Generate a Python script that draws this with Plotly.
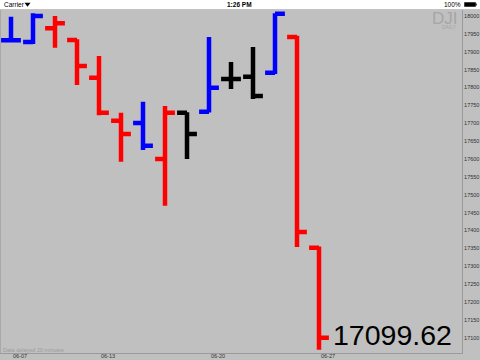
import plotly.graph_objects as go

# ---- data (DJI daily bars, June 2016) ----
dates = ["06-07", "06-08", "06-09", "06-10", "06-13", "06-14", "06-15", "06-16",
         "06-17", "06-20", "06-21", "06-22", "06-23", "06-24", "06-27"]
opens = [17932, 17927, 17966, 17933, 17827, 17707, 17701, 17600,
         17729, 17732, 17824, 17830, 17841, 17941, 17352]
highs = [17998, 18008, 18000, 17935, 17888, 17729, 17760, 17748,
         17731, 17941, 17871, 17913, 18008, 17945, 17355]
lows = [17928, 17922, 17911, 17807, 17722, 17592, 17625, 17469,
        17600, 17730, 17796, 17768, 17838, 17354, 17066]
closes = [17932, 18000, 17980, 17860, 17729, 17670, 17637, 17729,
          17670, 17799, 17824, 17776, 18006, 17396, 17099.62]
bar_colors = ["blue", "blue", "red", "red", "red", "red", "blue", "red",
              "black", "blue", "black", "black", "blue", "red", "red"]
label_dates = ["06-07", "06-13", "06-20", "06-27"]
y_ticks = list(range(17100, 18001, 50))
last_value = "17099.62"

W, H = 480, 360
ML, MR, MT, MB = 0, 18, 10, 7
PW, PH = W - ML - MR, H - MT - MB

def px(x):
    return (x - ML) / PW

def py(y):
    return (H - MB - y) / PH

color_map = {"blue": "#0000ff", "red": "#ff0000", "black": "#000000"}
fig = go.Figure()
for cname in ["blue", "red", "black"]:
    idx = [i for i, c in enumerate(bar_colors) if c == cname]
    col = color_map[cname]
    fig.add_trace(go.Ohlc(
        x=idx,
        open=[opens[i] for i in idx],
        high=[highs[i] for i in idx],
        low=[lows[i] for i in idx],
        close=[closes[i] for i in idx],
        increasing=dict(line=dict(color=col, width=4.5)),
        decreasing=dict(line=dict(color=col, width=4.5)),
        tickwidth=0.45,
        hoverinfo="skip",
        showlegend=False,
    ))

annotations = []
# x date labels, left aligned just right of bar centre
for d in label_dates:
    i = dates.index(d)
    annotations.append(dict(x=i, xref="x", y=py(356.5), yref="paper", yanchor="middle",
                            xanchor="left", xshift=1, text=d, borderpad=0,
                            showarrow=False,
                            font=dict(size=5.5, color="#333333", family="Liberation Sans")))

# last value
annotations.append(dict(x=px(331), xref="paper", y=py(353), yref="paper",
                        xanchor="left", yanchor="bottom", text=last_value,
                        showarrow=False,
                        font=dict(size=28.5, color="#000000", family="Liberation Sans")))
# watermark
annotations.append(dict(x=px(459), xref="paper", y=py(8), yref="paper",
                        xanchor="right", yanchor="top", text="DJI", borderpad=0,
                        showarrow=False,
                        font=dict(size=17, color="#a6a6a6", family="Liberation Sans")))
annotations.append(dict(x=px(458), xref="paper", y=py(27), yref="paper",
                        xanchor="right", yanchor="middle", text="DAILY", borderpad=0,
                        showarrow=False,
                        font=dict(size=5, color="#a6a6a6", family="Liberation Sans")))
# delayed note
annotations.append(dict(x=px(1), xref="paper", y=py(349.5), yref="paper",
                        xanchor="left", yanchor="middle", text="Data delayed 20 minutes",
                        showarrow=False,
                        font=dict(size=5.5, color="#9c9c9c", family="Liberation Sans")))
# status bar
annotations.append(dict(x=px(2), xref="paper", y=py(4.5), yref="paper",
                        xanchor="left", yanchor="middle", text="Carrier",
                        showarrow=False,
                        font=dict(size=6.5, color="#000000", family="Liberation Sans")))
annotations.append(dict(x=px(240), xref="paper", y=py(4.5), yref="paper",
                        xanchor="center", yanchor="middle", text="<b>1:26 PM</b>",
                        showarrow=False,
                        font=dict(size=6.5, color="#000000", family="Liberation Sans")))
annotations.append(dict(x=px(463), xref="paper", y=py(4.5), yref="paper",
                        xanchor="right", yanchor="middle", text="100%",
                        showarrow=False,
                        font=dict(size=6.5, color="#000000", family="Liberation Sans")))

shapes = [
    dict(type="rect", xref="paper", yref="paper", x0=px(0), x1=px(480),
         y0=py(9.5), y1=py(0), fillcolor="#ffffff", line=dict(width=0), layer="above"),
    dict(type="line", xref="paper", yref="paper", x0=px(0), x1=px(480),
         y0=py(9.5), y1=py(9.5), line=dict(color="#b0b0b0", width=0.6), layer="above"),
    # battery
    dict(type="rect", xref="paper", yref="paper", x0=px(464.5), x1=px(475.5),
         y0=py(6.5), y1=py(2.5), fillcolor="#000000", line=dict(color="#000000", width=0.5),
         layer="above"),
    dict(type="rect", xref="paper", yref="paper", x0=px(475.5), x1=px(476.7),
         y0=py(5.5), y1=py(3.5), fillcolor="#000000", line=dict(width=0), layer="above"),
    # wifi glyph
    dict(type="path", xref="paper", yref="paper",
         path=f"M {px(24.5)},{py(2.8)} L {px(30.5)},{py(2.8)} L {px(27.5)},{py(6.8)} Z",
         fillcolor="#000000", line=dict(width=0), layer="above"),
    # left edge line
    dict(type="line", xref="paper", yref="paper", x0=px(0.5), x1=px(0.5),
         y0=0, y1=1, line=dict(color="#a8a8a8", width=1)),
]

fig.update_layout(
    width=W, height=H,
    margin=dict(l=ML, r=MR, t=MT, b=MB, pad=0),
    paper_bgcolor="#c0c0c0", plot_bgcolor="#c0c0c0",
    showlegend=False,
    annotations=annotations,
    shapes=shapes,
    xaxis=dict(range=[-0.5, 20.5], showgrid=False, zeroline=False,
               showticklabels=False, ticks="", showline=True,
               linecolor="#9a9a9a", linewidth=1, rangeslider=dict(visible=False),
               fixedrange=True),
    yaxis=dict(range=[17057.2, 18016.8], side="right", showgrid=False,
               zeroline=False, tickvals=y_ticks, ticktext=[str(v) for v in y_ticks],
               ticks="", showline=True, linecolor="#9a9a9a", linewidth=1,
               tickfont=dict(size=5.5, color="#333333", family="Liberation Sans"),
               fixedrange=True),
)

fig.write_html("out.html", config={"displayModeBar": False})
